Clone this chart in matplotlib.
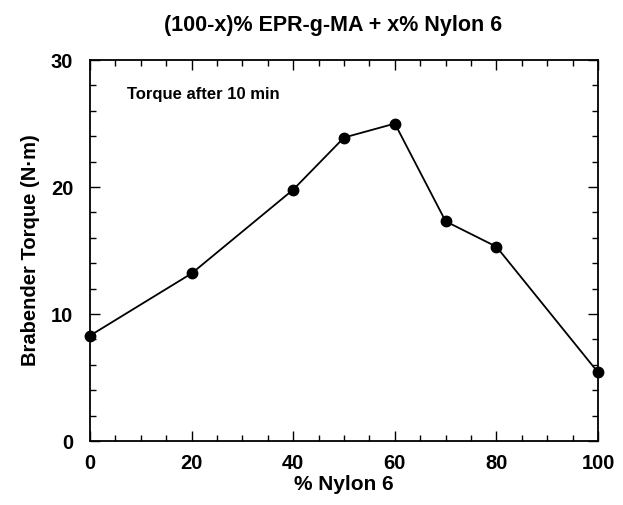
import matplotlib.pyplot as plt
from matplotlib.ticker import MultipleLocator

# % Nylon 6 in the blend and Brabender torque after 10 min
nylon_pct = [0, 20, 40, 50, 60, 70, 80, 100]
torque = [8.3, 13.2, 19.8, 23.9, 25.0, 17.3, 15.3, 5.4]

plt.rcParams['font.family'] = ['Liberation Sans', 'DejaVu Sans']

fig = plt.figure(figsize=(6.23, 5.05), dpi=100)
ax = fig.add_axes([0.1445, 0.1267, 0.8155, 0.7543])

ax.plot(nylon_pct, torque, color='black', linewidth=1.3,
        marker='o', markersize=7.5, clip_on=False, zorder=3)

ax.set_xlim(0, 100)
ax.set_ylim(0, 30)
ax.xaxis.set_major_locator(MultipleLocator(20))
ax.xaxis.set_minor_locator(MultipleLocator(5))
ax.yaxis.set_major_locator(MultipleLocator(10))
ax.yaxis.set_minor_locator(MultipleLocator(2))

ax.tick_params(which='both', direction='in', top=True, right=True,
               width=1.0, color='black')
ax.tick_params(which='major', length=7)
ax.tick_params(which='minor', length=4)
ax.tick_params(axis='x', which='major', pad=9, labelsize=14.5)
ax.tick_params(axis='y', which='major', pad=12, labelsize=14.5)
for lab in ax.get_xticklabels() + ax.get_yticklabels():
    lab.set_fontweight('bold')

for s in ax.spines.values():
    s.set_linewidth(1.3)

ax.set_xlabel('% Nylon 6', fontsize=15, fontweight='bold', labelpad=2)
ax.set_ylabel('Brabender Torque (N\u00b7m)', fontsize=14.5, fontweight='bold',
              labelpad=8)
fig.text(0.535, 0.95, '(100-x)% EPR-g-MA + x% Nylon 6', fontsize=15.5,
         fontweight='bold', ha='center', va='center')
ax.text(0.072, 0.91, 'Torque after 10 min', transform=ax.transAxes,
        fontsize=12, fontweight='bold', ha='left', va='center')

fig.savefig('out.png', dpi=100)
